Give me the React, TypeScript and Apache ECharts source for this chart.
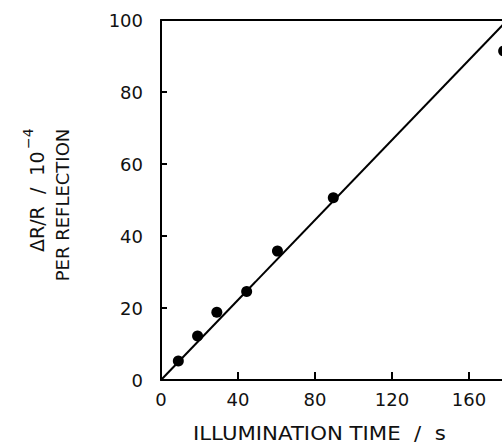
import React, { useEffect, useRef } from "react";
import * as echarts from "echarts";

const timeValues = [9, 19, 29, 44.5, 60.5, 89.5, 178];
const signalValues = [5.3, 12.2, 18.8, 24.6, 35.8, 50.6, 91.4];
const fitLineX = [0, 180];
const fitLineY = [0, 100];
const xTicks = { min: 0, max: 180, interval: 40 };
const yTicks = { min: 0, max: 100, interval: 20 };

const FONT = "DejaVu Sans";

export default function App() {
  const ref = useRef<HTMLDivElement>(null);
  useEffect(() => {
    if (!ref.current) return;
    const chart = echarts.init(ref.current, undefined, { renderer: "svg" });
    const scatterData = timeValues.map((t, i) => [t, signalValues[i]]);
    const lineData = fitLineX.map((x, i) => [x, fitLineY[i]]);
    chart.setOption({
      animation: false,
      backgroundColor: "#ffffff",
      grid: {
        left: 161,
        top: 20,
        right: 4.5,
        bottom: 64,
        show: false,
      },
      xAxis: [
        {
          type: "value",
          min: xTicks.min,
          max: xTicks.max,
          interval: xTicks.interval,
          axisLine: { show: true, onZero: false, lineStyle: { color: "#000", width: 2 } },
          axisTick: { show: true, inside: true, length: 8, lineStyle: { color: "#000", width: 2 } },
          axisLabel: {
            showMaxLabel: false,
            margin: 10,
            fontFamily: FONT,
            fontSize: 18,
            color: "#111",
          },
          splitLine: { show: false },
        },
        {
          type: "value",
          position: "top",
          min: xTicks.min,
          max: xTicks.max,
          interval: xTicks.interval,
          axisLine: { show: true, onZero: false, lineStyle: { color: "#000", width: 2 } },
          axisTick: { show: false },
          axisLabel: { show: false },
          splitLine: { show: false },
        },
      ],
      yAxis: {
        type: "value",
        min: yTicks.min,
        max: yTicks.max,
        interval: yTicks.interval,
        axisLine: { show: true, onZero: false, lineStyle: { color: "#000", width: 2 } },
        axisTick: { show: true, inside: true, length: 6, lineStyle: { color: "#000", width: 2 } },
        axisLabel: {
          margin: 18,
          fontFamily: FONT,
          fontSize: 18,
          color: "#111",
        },
        splitLine: { show: false },
      },
      series: [
        {
          type: "line",
          data: lineData,
          symbol: "none",
          lineStyle: { color: "#000", width: 2 },
          z: 2,
        },
        {
          type: "scatter",
          data: scatterData,
          symbol: "circle",
          symbolSize: 11,
          itemStyle: { color: "#000", opacity: 1 },
          z: 3,
        },
      ],
      graphic: [
        {
          type: "text",
          x: 193,
          y: 433,
          scaleX: 1.12,
          style: {
            text: "ILLUMINATION TIME  /  s",
            fontFamily: FONT,
            fontSize: 19,
            fill: "#111",
            textAlign: "left",
            textVerticalAlign: "middle",
          },
        },
        {
          type: "text",
          x: 37,
          y: 252,
          rotation: Math.PI / 2,
          style: {
            text: "ΔR/R  /  10",
            fontFamily: FONT,
            fontSize: 19,
            fill: "#111",
            textAlign: "left",
            textVerticalAlign: "middle",
          },
        },
        {
          type: "text",
          x: 28,
          y: 149,
          rotation: Math.PI / 2,
          style: {
            text: "−4",
            fontFamily: FONT,
            fontSize: 14,
            fill: "#111",
            textAlign: "left",
            textVerticalAlign: "middle",
          },
        },
        {
          type: "text",
          x: 62,
          y: 205,
          rotation: Math.PI / 2,
          style: {
            text: "PER REFLECTION",
            fontFamily: FONT,
            fontSize: 18,
            fill: "#111",
            textAlign: "center",
            textVerticalAlign: "middle",
          },
        },
      ],
    });
    return () => chart.dispose();
  }, []);
  return (
    <div
      ref={ref}
      style={{ position: "fixed", left: 0, top: 0, width: 512, height: 444, background: "#fff" }}
    />
  );
}
